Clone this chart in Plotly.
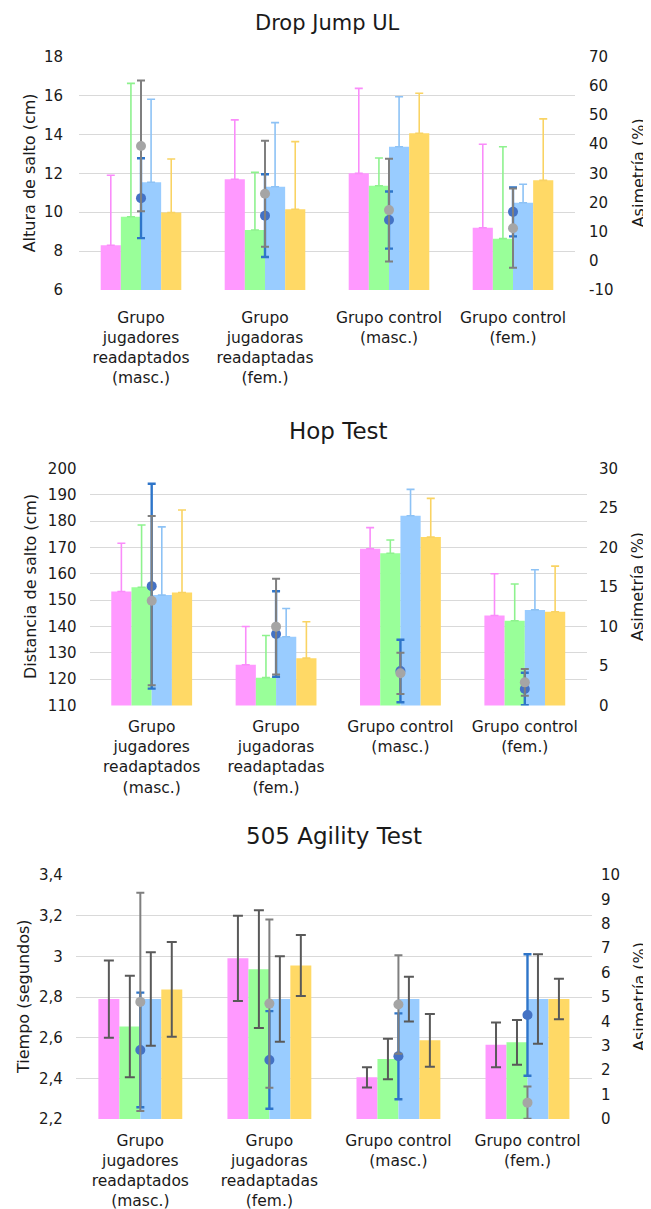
import plotly.graph_objects as go

# ---------------- data ----------------
categories = ["Grupo<br>jugadores<br>readaptados<br>(masc.)",
              "Grupo<br>jugadoras<br>readaptadas<br>(fem.)",
              "Grupo control<br>(masc.)",
              "Grupo control<br>(fem.)"]

# Drop Jump UL (cm) + asymmetry (%)
dj_s1 = [8.3, 11.7, 12.0, 9.2]
dj_s1_err = [3.6, 3.05, 4.37, 4.3]
dj_s2 = [9.77, 9.09, 11.36, 8.64]
dj_s2_err = [6.86, 2.96, 1.43, 4.73]
dj_s3 = [11.54, 11.31, 13.37, 10.49]
dj_s3_err = [4.27, 3.3, 2.57, 0.95]
dj_s4 = [9.98, 10.15, 14.06, 11.64]
dj_s4_err = [2.76, 3.48, 2.06, 3.16]
dj_asym_a = [21.5, 15.5, 14.0, 16.8]
dj_asym_a_err = [13.7, 14.2, 9.8, 8.4]
dj_asym_b = [39.4, 23.0, 17.4, 11.2]
dj_asym_b_err = [22.4, 18.2, 17.6, 13.6]
dj_right_ticks = [-10, 0, 10, 20, 30, 40, 50, 60, 70]
dj_right_text = ["-10", "0", "10", "20", "30", "40", "50", "60", "70"]

# Hop Test (cm) + asymmetry (%)
hop_s1 = [153.3, 125.5, 169.5, 144.2]
hop_s1_err = [18.3, 14.5, 8.0, 15.8]
hop_s2 = [154.9, 120.6, 167.8, 142.2]
hop_s2_err = [23.6, 16.0, 5.0, 13.9]
hop_s3 = [151.9, 136.1, 182.0, 146.3]
hop_s3_err = [25.9, 10.7, 10.0, 15.2]
hop_s4 = [152.9, 128.0, 173.9, 145.6]
hop_s4_err = [31.3, 13.8, 14.7, 17.3]
hop_asym_a = [15.1, 9.05, 4.37, 2.1]
hop_asym_a_err = [12.95, 5.4, 3.95, 2.05]
hop_asym_b = [13.26, 9.98, 4.08, 2.94]
hop_asym_b_err = [10.7, 6.05, 2.6, 1.68]

# 505 Agility Test (s) + asymmetry (%)
ag_s1 = [2.79, 2.99, 2.405, 2.565]
ag_s1_err = [0.19, 0.21, 0.05, 0.11]
ag_s2 = [2.655, 2.937, 2.495, 2.577]
ag_s2_err = [0.25, 0.29, 0.10, 0.11]
ag_s3 = [2.79, 2.79, 2.79, 2.79]
ag_s3_err = [0.23, 0.21, 0.11, 0.22]
ag_s4 = [2.837, 2.955, 2.587, 2.79]
ag_s4_err = [0.233, 0.15, 0.13, 0.10]
ag_asym_a = [2.83, 2.42, 2.57, 4.26]
ag_asym_a_err = [2.35, 2.0, 1.76, 2.49]
ag_asym_b = [4.8, 4.73, 4.69, 0.67]
ag_asym_b_err = [4.47, 3.45, 2.02, 0.66]

ag_ticks = [2.2, 2.4, 2.6, 2.8, 3.0, 3.2, 3.4]
ag_ticktext = ["2,2", "2,4", "2,6", "2,8", "3", "3,2", "3,4"]

# ---------------- style ----------------
OFF = 8                      # default page body margin
W, H = 651 - OFF, 1209 - OFF
FONT = "DejaVu Sans, Liberation Sans, Arial, sans-serif"
TXT = "#1a1a1a"
TICK = 15
bar_colors = ["#FF99FF", "#99FF99", "#99CCFF", "#FFD966"]
bar_err_colors = ["#FA8CFA", "#8EF28E", "#8DC2F5", "#F9D363"]
asym_a_color, asym_a_err = "#4472C4", "#2E75C9"
asym_b_color, asym_b_err = "#A5A5A5", "#7F7F7F"

panels = [
    dict(title="Drop Jump UL", ytitle="Altura de salto (cm)",
         bars=[(dj_s1, dj_s1_err), (dj_s2, dj_s2_err), (dj_s3, dj_s3_err), (dj_s4, dj_s4_err)],
         asym=[(dj_asym_a, dj_asym_a_err), (dj_asym_b, dj_asym_b_err)],
         yl=dict(range=[6, 18], dtick=2),
         yr=dict(range=[-10, 70], tickvals=dj_right_ticks, ticktext=dj_right_text),
         px=(79, 575), py=(56.7, 290), one_sided=True, tsize=21, ty=23, ltx=29, rtx=638,
         lso=15, rso=13, xso=16),
    dict(title="Hop Test", ytitle="Distancia de salto (cm)",
         bars=[(hop_s1, hop_s1_err), (hop_s2, hop_s2_err), (hop_s3, hop_s3_err), (hop_s4, hop_s4_err)],
         asym=[(hop_asym_a, hop_asym_a_err), (hop_asym_b, hop_asym_b_err)],
         yl=dict(range=[110, 200], dtick=10), yr=dict(range=[0, 30], dtick=5),
         px=(89.5, 587), py=(468.3, 705.6), one_sided=True, tsize=23, ty=431, ltx=31, rtx=638,
         lso=12, rso=11, xso=10),
    dict(title="505 Agility Test", ytitle="Tiempo (segundos)",
         bars=[(ag_s1, ag_s1_err), (ag_s2, ag_s2_err), (ag_s3, ag_s3_err), (ag_s4, ag_s4_err)],
         asym=[(ag_asym_a, ag_asym_a_err), (ag_asym_b, ag_asym_b_err)],
         yl=dict(range=[2.2, 3.4], tickvals=ag_ticks, ticktext=ag_ticktext), yr=dict(range=[0, 10], dtick=1),
         px=(75.8, 592), py=(875, 1119), one_sided=False, tsize=23, ty=836, ltx=23, rtx=639,
         lso=12, rso=8, xso=10),
]


def fx(px):
    return (px - OFF) / W


def fy(py):
    return 1 - (py - OFF) / H


fig = go.Figure()
layout = dict(width=W, height=H, margin=dict(l=0, r=0, t=0, b=0, autoexpand=False),
              paper_bgcolor="white", plot_bgcolor="white",
              barmode="group", bargap=0.35, bargroupgap=0,
              showlegend=False, font=dict(family=FONT, size=TICK, color=TXT))
annotations = []

for i, p in enumerate(panels, start=1):
    xid = "x" if i == 1 else f"x{i}"
    yl_n, yr_n = 2 * i - 1, 2 * i
    ylid = "y" if yl_n == 1 else f"y{yl_n}"
    yrid = f"y{yr_n}"
    for k, (vals, err) in enumerate(p["bars"]):
        if p["one_sided"]:
            ey = dict(type="data", symmetric=False, array=err, arrayminus=[0] * len(err),
                      color=bar_err_colors[k], thickness=1.6, width=4)
        else:
            ey = dict(type="data", array=err, color="#595959", thickness=2, width=5)
        fig.add_trace(go.Bar(x=categories, y=vals, name=f"Serie {k+1}",
                             marker=dict(color=bar_colors[k], line=dict(width=0)),
                             error_y=ey, xaxis=xid, yaxis=ylid))
    # asymmetry points (secondary axis)
    (a_v, a_e), (b_v, b_e) = p["asym"]
    fig.add_trace(go.Scatter(x=categories, y=a_v, mode="markers", name="Asimetría 1",
                             marker=dict(color=asym_a_color, size=10),
                             error_y=dict(type="data", array=a_e, color=asym_a_err, thickness=2.4, width=4),
                             xaxis=xid, yaxis=yrid))
    fig.add_trace(go.Scatter(x=categories, y=b_v, mode="markers", name="Asimetría 2",
                             marker=dict(color=asym_b_color, size=10),
                             error_y=dict(type="data", array=b_e, color=asym_b_err, thickness=2, width=4),
                             xaxis=xid, yaxis=yrid))

    xkey = "xaxis" if i == 1 else f"xaxis{i}"
    ylkey = "yaxis" if yl_n == 1 else f"yaxis{yl_n}"
    yrkey = f"yaxis{yr_n}"
    layout[xkey] = dict(domain=[fx(p["px"][0]), fx(p["px"][1])], anchor=ylid, type="category",
                        showgrid=False, showline=False, ticks="", zeroline=False, automargin=False,
                        tickfont=dict(size=15.5, color=TXT), ticklabelstandoff=p["xso"])
    layout[ylkey] = dict(domain=[fy(p["py"][1]), fy(p["py"][0])], anchor=xid, showgrid=True,
                         gridcolor="#D9D9D9", gridwidth=1.3, zeroline=False, showline=False,
                         ticks="", automargin=False,
                         tickfont=dict(size=TICK, color=TXT), ticklabelstandoff=p["lso"], **p["yl"])
    layout[yrkey] = dict(overlaying=ylid, side="right", anchor=xid, showgrid=False,
                         zeroline=False, showline=False, ticks="", automargin=False,
                         tickfont=dict(size=TICK, color=TXT), ticklabelstandoff=p["rso"], **p["yr"])
    cx = fx((p["px"][0] + p["px"][1]) / 2)
    annotations.append(dict(text=p["title"], x=cx, y=fy(p["ty"]), xref="paper", yref="paper",
                            showarrow=False, xanchor="center", yanchor="middle",
                            font=dict(size=p["tsize"], color=TXT)))
    ymid = fy((p["py"][0] + p["py"][1]) / 2)
    annotations.append(dict(text=p["ytitle"], x=fx(p["ltx"]), y=ymid, xref="paper", yref="paper",
                            showarrow=False, textangle=-90, xanchor="center", yanchor="middle",
                            font=dict(size=16, color=TXT)))
    annotations.append(dict(text="Asimetría (%)", x=fx(p["rtx"]), y=ymid, xref="paper", yref="paper",
                            showarrow=False, textangle=-90, xanchor="center", yanchor="middle",
                            font=dict(size=16, color=TXT)))

layout["annotations"] = annotations
fig.update_layout(**layout)
fig.write_html("out.html")
